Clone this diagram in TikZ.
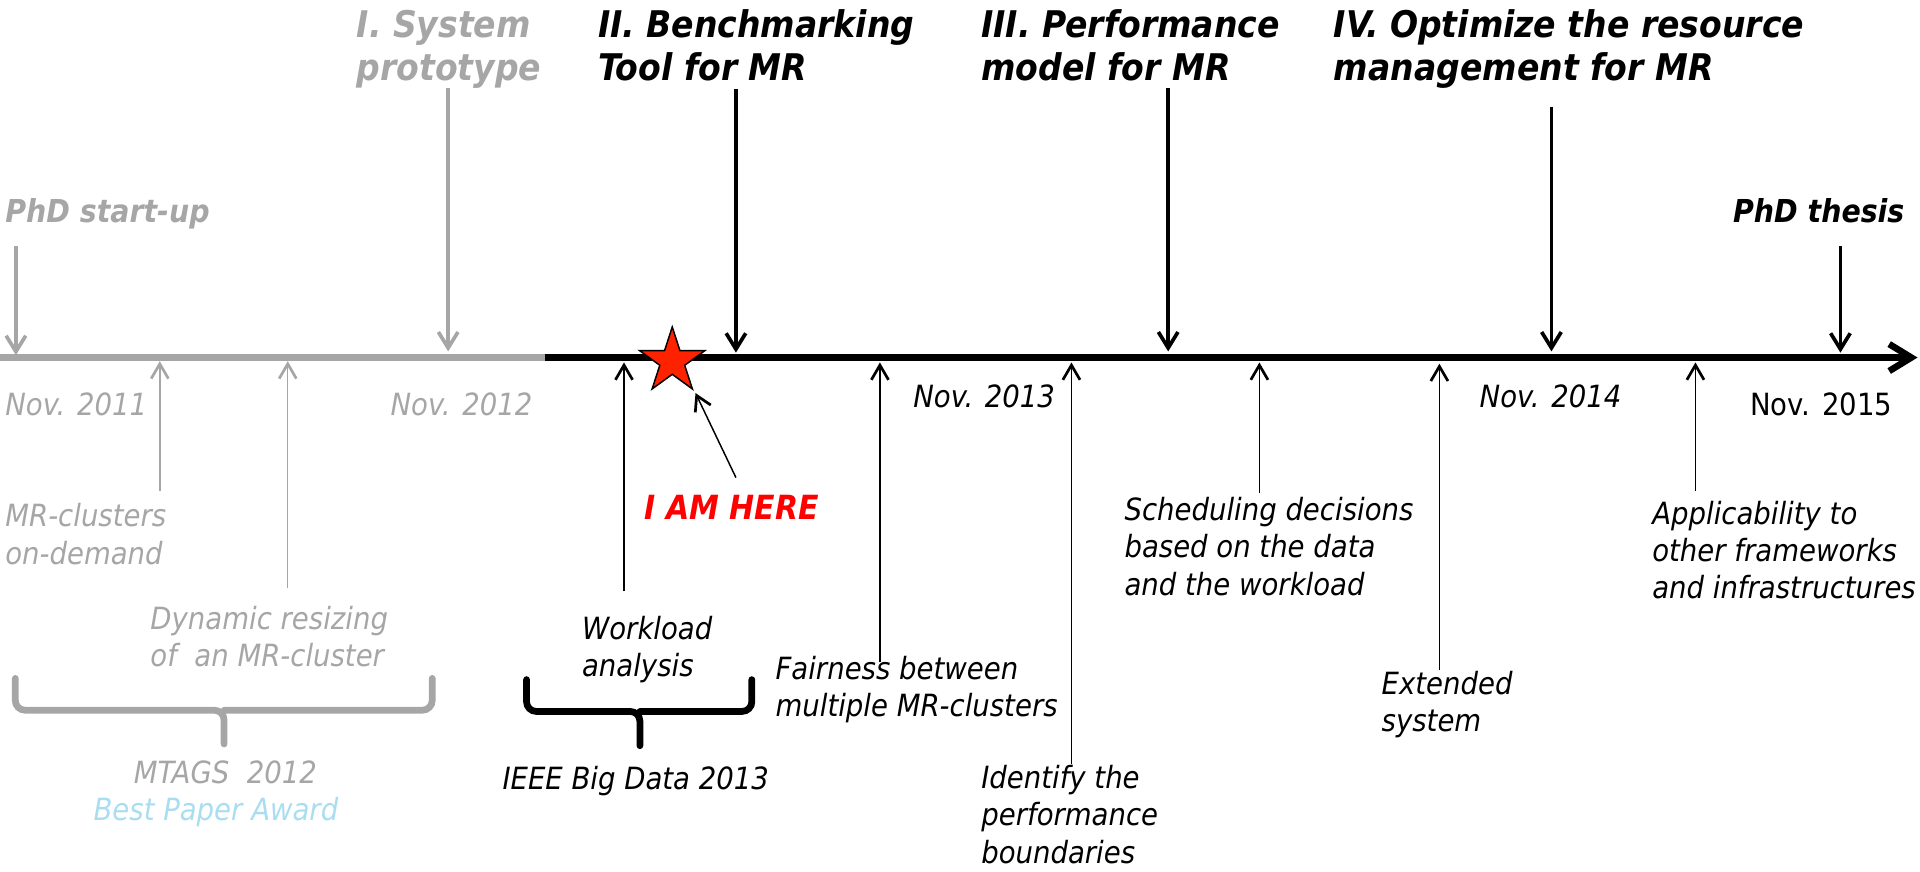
\documentclass[tikz,border=0pt]{standalone}
\usepackage{fontspec}
\setmainfont{DejaVu Sans Condensed}
\usetikzlibrary{arrows.meta,shapes.geometric}

\definecolor{pastgrey}{HTML}{A6A6A6}
\definecolor{awardblue}{HTML}{A9DDF1}
\definecolor{starred}{HTML}{FF2200}
\definecolor{herered}{HTML}{FF0000}

% multi-line nodes are placed by the baseline of their last line
\tikzset{
  txt/.style={anchor=base west, inner sep=0pt, align=left},
  title/.style={txt, font=\fontsize{15}{17.75}\selectfont\bfseries\itshape},
  phd/.style={txt, font=\fontsize{12.9}{15}\selectfont\bfseries\itshape},
  note/.style={txt, font=\fontsize{12.5}{15.25}\selectfont\itshape},
  datelbl/.style={txt, font=\fontsize{12.5}{15}\selectfont\itshape},
  milestone/.style={line width=1.5pt, -{Straight Barb[length=6.5pt,width=8pt]}},
  tick/.style={line width=0.6pt, -{Straight Barb[length=6pt,width=7pt,line width=1.1pt]}},
  bracket/.style={line width=2.75pt, rounded corners=4pt, line cap=round},
}

\begin{document}
\begin{tikzpicture}[x=0.5pt,y=-0.5pt]
\useasboundingbox (0,0) rectangle (1568,712);

% time axis
\coordinate (ax0) at (0,292);
\coordinate (axmid) at (445,292);
\coordinate (axend) at (1566,292);
\draw[pastgrey, line width=2.5pt] (ax0) -- (axmid);
\draw[line width=2.7pt, -{Straight Barb[length=9pt,width=11pt]}] (axmid) -- (axend);

% phase titles
\node[title, text=pastgrey] (t1) at (291,66) {I. System\\prototype};
\node[title] (t2) at (488,66) {II. Benchmarking\\Tool for MR};
\node[title] (t3) at (801,66) {III. Performance\\model for MR};
\node[title] (t4) at (1089,66) {IV. Optimize the resource\\management for MR};
\node[phd, text=pastgrey] (start) at (4,182) {PhD start-up};
\node[phd] (thesis) at (1415,182) {PhD thesis};

% milestone arrows onto the axis
\coordinate (m0a) at (13,201);   \coordinate (m0b) at (13,290);
\coordinate (m1a) at (366,72);   \coordinate (m1b) at (366,287);
\coordinate (m2a) at (601,73);   \coordinate (m2b) at (601,288);
\coordinate (m3a) at (954,72);   \coordinate (m3b) at (954,287);
\coordinate (m4a) at (1267,87);  \coordinate (m4b) at (1267,287);
\coordinate (m5a) at (1503,201); \coordinate (m5b) at (1503,288);
\draw[milestone, pastgrey] (m0a) -- (m0b);
\draw[milestone, pastgrey] (m1a) -- (m1b);
\draw[milestone] (m2a) -- (m2b);
\draw[milestone] (m3a) -- (m3b);
\draw[milestone] (m4a) -- (m4b);
\draw[milestone] (m5a) -- (m5b);

% dates
\node[datelbl, text=pastgrey] (d11) at (4,339) {Nov. 2011};
\node[datelbl, text=pastgrey] (d12) at (318.6,339) {Nov. 2012};
\node[datelbl, anchor=base east] (d13) at (862,333) {Nov. 2013};
\node[datelbl] (d14) at (1208,333) {Nov. 2014};
\node[datelbl, font=\fontsize{12.5}{15}\selectfont] (d15) at (1429,339) {Nov. 2015};

% results below the axis
\node[note, text=pastgrey] (n1) at (4,460.7) {MR-clusters\\on-demand};
\node[note, text=pastgrey] (n2) at (122.5,544.6) {Dynamic resizing\\of\ \ an MR-cluster};
\node[note, text=pastgrey] (p1) at (109,640) {MTAGS\ \ 2012};
\node[note, text=awardblue] (p1b) at (76,670) {Best Paper Award};
\node[note] (n3) at (475,552.8) {Workload\\analysis};
\node[note] (p2) at (410,645) {IEEE Big Data 2013};
\node[note] (n4) at (633,585.5) {Fairness between\\multiple MR-clusters};
\node[note] (n5) at (801,705) {Identify the\\performance\\boundaries};
\node[note] (n6) at (918,486) {Scheduling decisions\\based on the data\\and the workload};
\node[note] (n7) at (1128,597.6) {Extended\\system};
\node[note] (n8) at (1349,489) {Applicability to\\other frameworks\\and infrastructures};

% result arrows up to the axis
\coordinate (r1a) at (130.5,401);  \coordinate (r1b) at (130.5,295);
\coordinate (r2a) at (235,480);    \coordinate (r2b) at (235,295);
\coordinate (r3a) at (509.6,483);  \coordinate (r3b) at (509.6,296);
\coordinate (r4a) at (718.6,541);  \coordinate (r4b) at (718.6,296);
\coordinate (r5a) at (875,624);    \coordinate (r5b) at (875,296);
\coordinate (r6a) at (1028.5,403); \coordinate (r6b) at (1028.5,296);
\coordinate (r7a) at (1175.5,547); \coordinate (r7b) at (1175.5,297);
\coordinate (r8a) at (1384.6,401); \coordinate (r8b) at (1384.6,296);
\draw[tick, pastgrey] (r1a) -- (r1b);
\draw[tick, pastgrey] (r2a) -- (r2b);
\draw[tick] (r3a) -- (r3b);
\draw[tick] (r4a) -- (r4b);
\draw[tick] (r5a) -- (r5b);
\draw[tick] (r6a) -- (r6b);
\draw[tick] (r7a) -- (r7b);
\draw[tick] (r8a) -- (r8b);

% current position
\node[star, star points=5, star point ratio=2.618, minimum size=28pt, inner sep=0pt,
      fill=starred, draw=black, line width=0.6pt] (star) at (549,295) {};
\node[txt, font=\fontsize{13.6}{15}\selectfont\bfseries\itshape, text=herered] (here) at (526,424) {I AM HERE};
\coordinate (herea) at (601,390);
\coordinate (hereb) at (568,321);
\draw[tick] (herea) -- (hereb);

% publication brackets
\draw[bracket, pastgrey] (12.5,554) -- (12.5,580) -- (183,580) -- (183,607.6)
      (183,580) -- (353,580) -- (353,554);
\draw[bracket] (430,555) -- (430,581) -- (522.6,581) -- (522.6,609)
      (522.6,581) -- (614,581) -- (614,555);
\end{tikzpicture}
\end{document}
